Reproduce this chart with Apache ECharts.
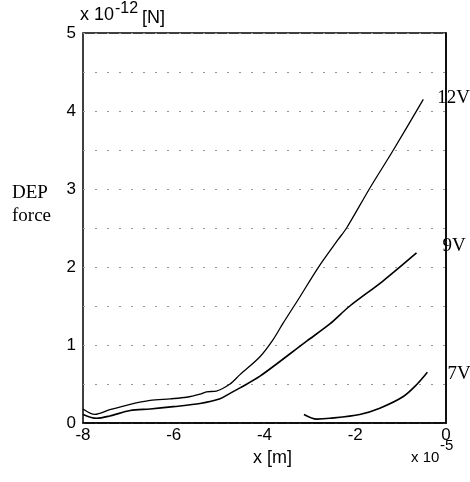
<!DOCTYPE html>
<html><head><meta charset="utf-8">
<script src="https://cdn.jsdelivr.net/npm/echarts@6/dist/echarts.min.js"></script>
<style>html,body{margin:0;padding:0;background:#fff}#c{width:470px;height:482px}</style>
</head><body><div id="c"></div>
<script>
// x in units of 1e-5 m, force in units of 1e-12 N
const x12 = [-8.0, -7.74, -7.41, -6.96, -6.52, -6.08, -5.72, -5.42, -5.28, -5.06, -4.76, -4.54, -4.10, -3.81, -3.59, -3.26, -2.82, -2.38, -2.19, -1.68, -1.16, -0.50];
const y12 = [0.18, 0.11, 0.17, 0.24, 0.29, 0.31, 0.33, 0.37, 0.40, 0.41, 0.50, 0.62, 0.85, 1.07, 1.28, 1.58, 1.99, 2.35, 2.50, 3.01, 3.50, 4.15];
const x9 = [-8.0, -7.70, -7.41, -6.96, -6.52, -6.01, -5.42, -4.98, -4.76, -4.54, -4.10, -3.07, -2.56, -2.12, -1.39, -0.65];
const y9 = [0.11, 0.06, 0.09, 0.16, 0.18, 0.21, 0.25, 0.31, 0.38, 0.45, 0.60, 1.05, 1.27, 1.50, 1.82, 2.18];
const x7 = [-3.13, -2.85, -2.56, -1.90, -1.46, -0.94, -0.65, -0.41];
const y7 = [0.11, 0.05, 0.06, 0.11, 0.19, 0.34, 0.49, 0.65];
const seriesNames = ['12V', '9V', '7V'];
const xTicks = [-8, -6, -4, -2, 0];
const yTicks = [0, 1, 2, 3, 4, 5];

const zip = (a, b) => a.map((v, i) => [v, b[i]]);
const chart = echarts.init(document.getElementById('c'));
const sans = 'Liberation Sans';
const serif = 'Liberation Serif';
function mk(name, data, w, dx, dy) {
  return {
    name, type: 'line', data, showSymbol: false, smooth: 0.3,
    lineStyle: { color: '#000', width: w },
    endLabel: { show: true, formatter: name, color: '#000', fontFamily: serif, fontSize: 19, offset: [dx, dy] },
    animation: false
  };
}
function txt(t, left, top, size, fam) {
  return { type: 'text', left, top, style: { text: t, fontSize: size, fontFamily: fam, fill: '#000' } };
}
chart.setOption({
  animation: false,
  grid: { left: 83, right: 24, top: 33, bottom: 59, show: true, borderColor: '#000', borderWidth: 1.5 },
  xAxis: {
    type: 'value', min: -8, max: 0, interval: 2,
    axisLine: { show: true, onZero: false, lineStyle: { color: '#000', width: 1.5 } },
    axisTick: { show: false },
    splitLine: { show: false },
    axisLabel: { color: '#000', fontFamily: sans, fontSize: 17, margin: 4,
      formatter: v => xTicks.includes(v) ? String(v) : '' }
  },
  yAxis: {
    type: 'value', min: 0, max: 5, interval: 0.5,
    axisLine: { show: true, lineStyle: { color: '#000', width: 1.5 } },
    axisTick: { show: false },
    splitLine: { show: true, lineStyle: { color: '#999', width: 1, type: [2, 10] } },
    axisLabel: { color: '#000', fontFamily: sans, fontSize: 17, margin: 7,
      formatter: v => yTicks.includes(v) ? String(v) : '' }
  },
  series: [
    mk(seriesNames[0], zip(x12, y12), 1.3, 6, -1),
    mk(seriesNames[1], zip(x9, y9), 1.6, 18, -7),
    mk(seriesNames[2], zip(x7, y7), 1.6, 12, 2)
  ],
  graphic: [
    txt('x 10', 80, 6, 18, sans),
    txt('-12', 115, 1, 16, sans),
    txt('[N]', 142, 9, 18, sans),
    txt('DEP', 12, 184, 19, serif),
    txt('force', 12, 207, 19, serif),
    txt('x [m]', 253, 449, 18, sans),
    txt('x 10', 411, 450, 15, sans),
    txt('-5', 440, 438, 15, sans)
  ]
});
</script></body></html>
